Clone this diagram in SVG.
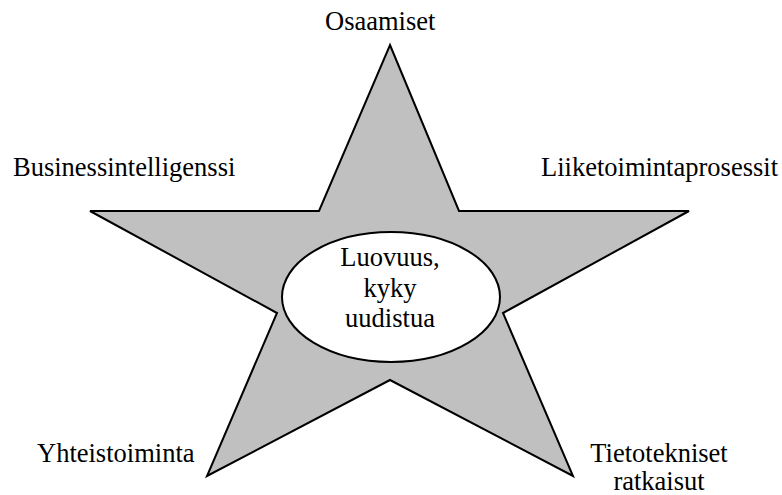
<svg xmlns="http://www.w3.org/2000/svg" width="782" height="495" viewBox="0 0 782 495">
  <style>
    .lbl { font-family: "Liberation Serif", "Times New Roman", serif; font-size: 26.5px; fill: #000; }
    .mid { text-anchor: middle; }
    .shape { stroke: #000; stroke-width: 2; stroke-linejoin: miter; }
  </style>
  <rect width="782" height="495" fill="#fff"/>

  <!-- five-pointed star -->
  <g id="star">
    <polygon class="shape" fill="#c0c0c0"
      points="390,45 459,211 689,211 503,313 573,476 390,380 207,476 277,313 90,211 319,211"/>
  </g>

  <!-- centre ellipse -->
  <g id="core">
    <ellipse class="shape" fill="#fff" cx="391" cy="297" rx="109" ry="65"/>
    <text class="lbl mid" x="390" y="266">Luovuus,</text>
    <text class="lbl mid" x="390" y="297">kyky</text>
    <text class="lbl mid" x="390" y="327">uudistua</text>
  </g>

  <!-- point labels -->
  <g id="osaamiset">
    <text class="lbl" x="325" y="30">Osaamiset</text>
  </g>
  <g id="business">
    <text class="lbl" x="13" y="176">Businessintelligenssi</text>
  </g>
  <g id="prosessit">
    <text class="lbl" x="541" y="176">Liiketoimintaprosessit</text>
  </g>
  <g id="yhteistoiminta">
    <text class="lbl" x="37" y="462">Yhteistoiminta</text>
  </g>
  <g id="tietotekniset">
    <text class="lbl mid" x="659" y="462">Tietotekniset</text>
    <text class="lbl mid" x="659" y="490">ratkaisut</text>
  </g>

  <g id="connectors"></g>
</svg>
